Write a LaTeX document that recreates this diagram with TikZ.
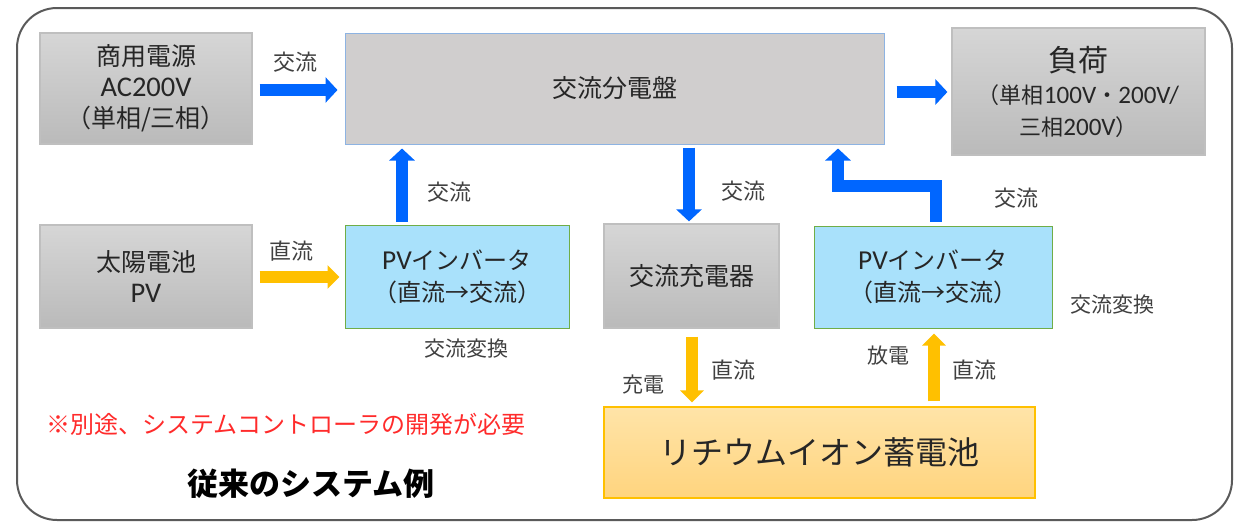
\documentclass[tikz,border=0pt]{standalone}
\usepackage{fontspec}
\setmainfont{Noto Sans CJK JP}
\newfontfamily\lat{Carlito}[Scale=1.14]
\usetikzlibrary{arrows.meta}
\definecolor{blueA}{HTML}{0066FF}
\definecolor{yelA}{HTML}{FFC000}
\definecolor{gtop}{HTML}{D6D6D6}
\definecolor{gbot}{HTML}{BABABA}
\definecolor{gbord}{HTML}{BFBFBF}
\definecolor{distfill}{HTML}{D0CECE}
\definecolor{distbord}{HTML}{8DB3E2}
\definecolor{invfill}{HTML}{A9E1FB}
\definecolor{invbord}{HTML}{70AD47}
\definecolor{battop}{HTML}{FFE4A8}
\definecolor{batbot}{HTML}{FFD47E}
\definecolor{txt}{HTML}{262626}
\definecolor{lbl}{HTML}{404040}
\definecolor{redT}{HTML}{FF2B2B}
\definecolor{frameC}{HTML}{5A5A5A}
\begin{document}
\begin{tikzpicture}[x=1pt,y=-1pt,
  box/.style={align=center, text=txt, inner sep=0pt},
  graybox/.style={box, draw=gbord, line width=1.2pt, top color=gtop, bottom color=gbot},
  distbox/.style={box, draw=distbord, line width=1pt, fill=distfill},
  invbox/.style={box, draw=invbord, line width=1pt, fill=invfill},
  batbox/.style={box, draw=yelA, line width=1.2pt, top color=battop, bottom color=batbot},
  mainfont/.style={font=\fontsize{25}{31}\selectfont},
  lab/.style={text=lbl, inner sep=0pt, font=\fontsize{22}{26}\selectfont},
  slab/.style={text=lbl, inner sep=0pt, font=\fontsize{21}{25}\selectfont},
  barrow/.style={draw=blueA, line width=12pt, line join=miter, -{Triangle[length=12pt,width=25pt]}},
  yarrow/.style={draw=yelA, line width=12pt, line join=miter, -{Triangle[length=12pt,width=23pt]}},
  frame/.style={draw=frameC, line width=2pt, rounded corners=40pt}
]
\useasboundingbox (0,0) rectangle (1239,522);
\draw[frame] (17,8) rectangle (1232,520);

% boxes
\node[graybox, mainfont, minimum width=212pt, minimum height=111pt] (ac) at (146,88.5)
  {商用電源\\{\lat AC200V}\\（単相/三相）};
\node[distbox, mainfont, minimum width=539pt, minimum height=111pt] (dist) at (614.5,88.5) {交流分電盤};
\node[graybox, font=\fontsize{22}{32}\selectfont, minimum width=253pt, minimum height=127pt] (load) at (1078.5,91.5)
  {{\fontsize{30}{34}\selectfont 負荷}\\（単相{\lat 100V}・{\lat 200V/}\\三相{\lat 200V}）};
\node[graybox, mainfont, minimum width=212pt, minimum height=103pt] (pv) at (146,276.5)
  {太陽電池\\{\lat PV}};
\node[invbox, font=\fontsize{24}{32}\selectfont, minimum width=224pt, minimum height=103pt] (inv1) at (457,276.5)
  {{\lat PV}インバータ\\（直流→交流）};
\node[graybox, mainfont, minimum width=175pt, minimum height=104pt] (chg) at (691.5,276) {交流充電器};
\node[invbox, font=\fontsize{24}{32}\selectfont, minimum width=238pt, minimum height=102pt] (inv2) at (933,277)
  {{\lat PV}インバータ\\（直流→交流）};
\node[batbox, font=\fontsize{32}{38}\selectfont, minimum width=431pt, minimum height=91pt] (bat) at (819.5,452.5)
  {リチウムイオン蓄電池};

% connectors
\draw[barrow, shorten <=7pt, shorten >=7pt] (ac.east |- 0,90) -- (dist.west |- 0,90);
\draw[barrow, shorten <=12pt, shorten >=4pt] (dist.east |- 0,92) -- (load.west |- 0,92);
\draw[barrow, shorten <=3pt, shorten >=4pt] (inv1.north -| 402,0) -- (dist.south -| 402,0);
\draw[barrow, shorten <=3pt, shorten >=2pt] (dist.south -| 689,0) -- (chg.north -| 689,0);
\draw[barrow, shorten <=4pt, shorten >=4pt] (inv2.north -| 936,0) -- (936,186) -- (838,186) -- (dist.south -| 838,0);
\draw[yarrow, shorten <=7pt, shorten >=5pt] (pv.east |- 0,277) -- (inv1.west |- 0,277);
\draw[yarrow, shorten <=8pt, shorten >=4pt] (chg.south -| 692,0) -- (bat.north -| 692,0);
\draw[yarrow, shorten <=5pt, shorten >=5pt] (bat.north -| 934,0) -- (inv2.south -| 934,0);

% labels
\node[lab] (l1) at (295,62) {交流};
\node[lab] (l2) at (291,251) {直流};
\node[lab] (l3) at (449,192) {交流};
\node[slab] (l4) at (466,349) {交流変換};
\node[lab] (l5) at (743,191) {交流};
\node[lab] (l6) at (1016,198) {交流};
\node[slab] (l7) at (1112,305) {交流変換};
\node[slab] (l8) at (643,385) {充電};
\node[lab] (l9) at (733,370) {直流};
\node[slab] (l10) at (888,356) {放電};
\node[lab] (l11) at (974,370) {直流};

\node[anchor=west, inner sep=0pt, text=redT, font=\fontsize{24}{28}\selectfont] (note) at (46,424)
  {※別途、システムコントローラの開発が必要};
\node[inner sep=0pt, text=black, font=\fontsize{31}{36}\selectfont\bfseries] (title) at (311,484) {従来のシステム例};
\end{tikzpicture}
\end{document}
